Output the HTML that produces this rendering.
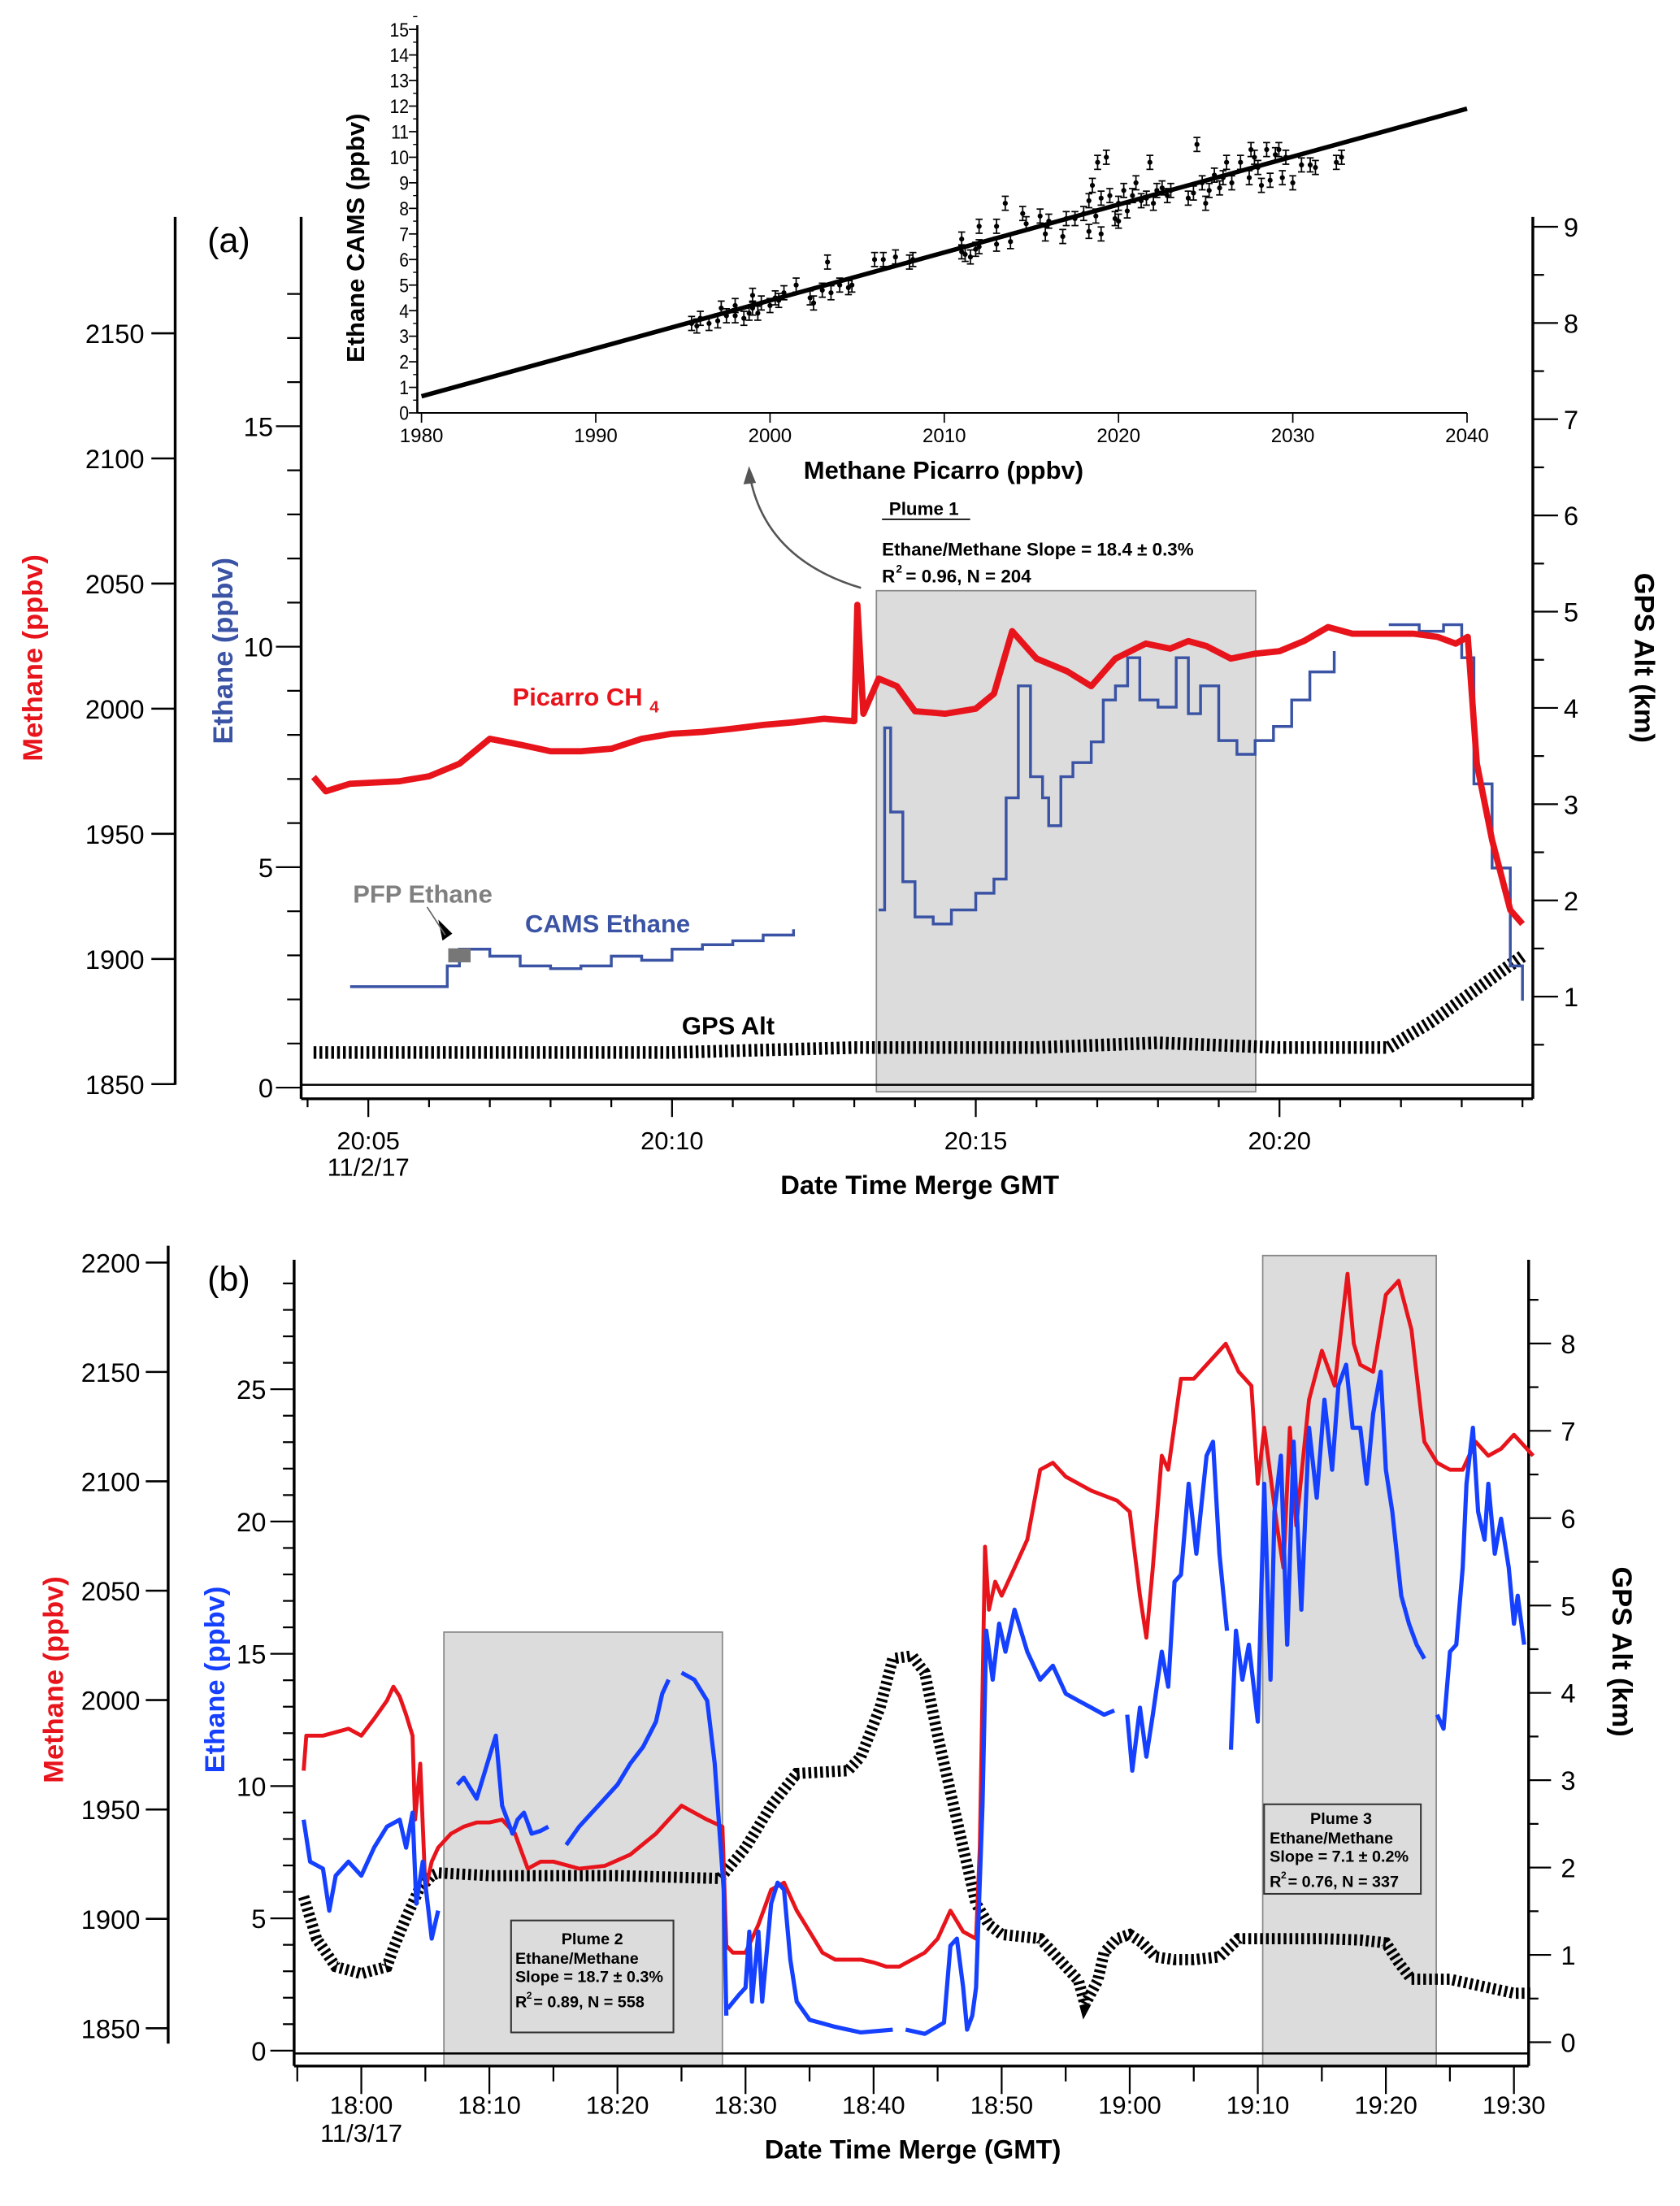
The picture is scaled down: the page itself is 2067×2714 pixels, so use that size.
<!DOCTYPE html>
<html><head><meta charset="utf-8"><style>
html,body{margin:0;padding:0;background:#fff}
svg{display:block}
text{font-family:"Liberation Sans",Arial,sans-serif}
</style></head><body>
<svg id="fig" xmlns="http://www.w3.org/2000/svg" width="2067" height="2714" viewBox="0 0 1200 1576">
<rect x="0" y="0" width="1200" height="1576" fill="#fff"/>
<g id="static">
<!-- panel a shading -->
<rect x="626" y="422" width="271" height="358" fill="#dcdcdc" stroke="#888" stroke-width="1"/>
<!-- panel b shading -->
<rect x="317" y="1166" width="199" height="310" fill="#dcdcdc" stroke="#888" stroke-width="1"/>
<rect x="902" y="897" width="124" height="579" fill="#dcdcdc" stroke="#888" stroke-width="1"/>
<text x="148" y="180" font-size="25">(a)</text>
<text x="148" y="922" font-size="25">(b)</text>
</g>
<g id="dyn"></g>
</svg>
<script>
// ---------- Panel (a) data ----------
const aCh4T = [4.1,4.3,4.7,5.5,6.0,6.5,7.0,7.5,8.0,8.5,9.0,9.5,10.0,10.5,11.0,11.5,12.0,12.5,13.0,13.05,13.15,13.4,13.7,14.0,14.5,15.0,15.3,15.6,16.0,16.5,16.9,17.3,17.8,18.2,18.5,18.8,19.2,19.6,20.0,20.4,20.8,21.2,21.7,22.2,22.6,22.9,23.1,23.25,23.5,23.8,24.0];
const aCh4V = [1972.7,1967,1970,1971,1973,1978,1988,1985.6,1983,1983,1984,1988,1990,1990.7,1992,1993.5,1994.6,1996,1995,2041.5,1998,2012,2009,1999,1998,2000,2006,2031,2020,2015,2009,2020,2026,2024,2027,2025,2020,2022,2023,2027,2032.6,2030,2030,2030,2028.7,2026,2028.7,1978,1947.5,1919.6,1914];
const aEthT1 = [4.7,5.5,6.0,6.3,6.5,7.0,7.5,8.0,8.5,9.0,9.5,10.0,10.5,11.0,11.5,12.0];
const aEthV1 = [2.29,2.29,2.29,2.76,3.14,2.98,2.76,2.70,2.76,2.98,2.89,3.14,3.24,3.33,3.46,3.59];
const aEthT2 = [13.4,13.5,13.6,13.8,14.0,14.3,14.6,15.0,15.3,15.5,15.7,15.9,16.1,16.2,16.4,16.6,16.9,17.1,17.3,17.5,17.7,18.0,18.3,18.5,18.7,19.0,19.3,19.6,19.9,20.2,20.5,20.9];
const aEthV2 = [4.03,8.16,6.25,4.67,3.87,3.71,4.03,4.41,4.73,6.57,9.11,7.05,6.57,5.94,7.05,7.37,7.84,8.79,9.11,9.75,8.79,8.63,9.75,8.48,9.11,7.87,7.56,7.87,8.19,8.79,9.43,9.9];
const aEthT3 = [21.8,22.3,22.7,23.0,23.2,23.5,23.8,24.0];
const aEthV3 = [10.5,10.35,10.5,9.75,6.89,4.98,2.76,1.97];
const aGpsT = [4.1,10,13,16,18,20,21.8,22.5,24.0];
const aGpsV = [0.42,0.42,0.47,0.47,0.52,0.47,0.47,0.74,1.42];
const pfpT = [6.5];
const pfpV = [3.0];
// ---------- Inset scatter data ----------
const scatX = [1995.5,1995.8,1996,1996.5,1997,1997.2,1997.5,1998,1998,1998.5,1998.8,1999,1999,1999.3,1999.5,2000,2000.3,2000.5,2000.8,2001.5,2002.3,2002.5,2003,2003.3,2003.5,2004,2004.5,2004.7,2006,2006.5,2007.2,2008,2008.2,2011,2011,2011.2,2011.5,2011.8,2012,2012,2013,2013,2013.5,2013.8,2014.5,2014.7,2015.5,2015.8,2016,2016.8,2017,2017.5,2018,2018.3,2018.3,2018.5,2018.7,2018.8,2019,2019,2019.3,2019.5,2019.8,2020,2020,2020.3,2020.5,2020.8,2021,2021.3,2021.6,2021.8,2022,2022.2,2022.5,2022.8,2023,2024,2024.3,2024.5,2024.8,2025,2025.2,2025.5,2025.8,2026,2026.2,2026.5,2027,2027.5,2027.6,2027.8,2028,2028.2,2028.5,2028.7,2029,2029.2,2029.4,2029.6,2030,2030.5,2031,2031.3,2032.5,2032.8];
const scatY = [3.5,3.4,3.7,3.5,3.6,4.1,3.8,3.8,4.2,3.7,3.9,4.6,4.1,3.9,4.3,4.2,4.5,4.4,4.7,5.0,4.5,4.3,4.8,5.9,4.7,5.0,4.9,5.0,6.0,6.0,6.1,5.9,6.0,6.8,6.3,6.2,6.1,6.4,7.3,6.5,7.3,6.6,8.2,6.7,7.8,7.4,7.7,7.0,7.5,6.9,7.6,7.6,7.8,8.3,7.1,8.9,7.7,9.8,7.0,8.4,10.0,8.5,7.6,7.5,8.2,8.7,7.9,8.5,9.0,8.3,8.4,9.8,8.2,8.7,8.8,8.5,8.7,8.4,8.6,10.5,9.0,8.2,8.7,9.3,8.8,9.2,9.8,9.0,9.8,9.2,10.3,10.0,9.6,8.9,10.3,9.1,10.1,10.3,9.2,10.0,9.0,9.7,9.7,9.6,9.8,10.0];
const fitX = [1980,2040];
const fitIntercept = 0.65;
const fitSlope = 0.1875;
const insetXTicks = [1980,1990,2000,2010,2020,2030,2040];
const insetYTicks = [0,1,2,3,4,5,6,7,8,9,10,11,12,13,14,15];
// ---------- Panel (b) data ----------
const bCh4T = [-4.5,-4.3,-3,-1,0,1,2,2.5,3,3.5,4,4.2,4.6,5,5.5,6,7,8,9,10,11,12,13,14,15,17,19,21,23,24,25,26,27,28.2,28.5,29,30,31,32,33,34,35,36,37,38,39,40,41,42,43,44,45,46,47,48,48.3,48.7,49,49.5,50,51,52,53,54,55,57,59,60,60.8,61.3,61.8,62.5,63,64,65,66.5,67.5,68.5,69.5,70,70.5,71.5,72,72.5,73,74,75,76,77,77.5,78,79,80,81,82,83,84,85,86,87,88,89,90,91,91.5];
const bCh4Y = [1265,1240,1240,1235,1240,1228,1215,1205,1212,1225,1240,1300,1260,1350,1330,1320,1310,1305,1302,1302,1300,1310,1335,1330,1330,1335,1333,1325,1310,1300,1290,1295,1300,1305,1390,1395,1395,1375,1350,1345,1365,1380,1395,1400,1400,1400,1402,1405,1405,1400,1395,1385,1365,1380,1385,1320,1105,1150,1130,1140,1120,1100,1050,1045,1055,1065,1072,1080,1140,1170,1120,1040,1050,985,985,970,960,980,990,1060,1020,1090,1120,1020,1090,1000,965,990,910,960,975,980,925,915,950,1030,1045,1050,1050,1030,1040,1035,1025,1035,1040];
const bEthSegT = [
 [-4.5,-4,-3,-2.5,-2,-1,0,1,2,3,3.5,4,4.3,4.8,5.5,6.0],
 [7.5,8,9,10,10.5,11,11.8,12.2,12.7,13.3,14,14.6],
 [16,17,18,19,20,21,22,23,23.5,24],
 [25,26,27,27.6,28.3,28.5],
 [28.6,29.5,30,30.3,30.5,31,31.3,32,32.5,33,33.5,34,35,37,39,41.5],
 [42.5,44,45.5,46,46.5,47,47.3,47.7,48,48.5,48.8,49.3,49.8,50.3,51,52,53,54,55,56,57,58,58.8],
 [59.8,60.2,60.8,61.3,61.8,62.5,63,63.5,64,64.6,65.2,66,66.5,67,67.6],
 [67.9,68.3,68.8,69.3,70,70.5,71,71.3,71.8,72.3,72.8,73.4,74,74.6,75.2,75.8,76.3,76.9,77.4,78,78.5,79,79.6,80,80.5,81.2,81.8,82.4,83],
 [84,84.5,85,85.5,86,86.3,86.8,87.2,87.7,88,88.5,89,89.6,90,90.3,90.8]
];
const bEthSegY = [
 [1300,1330,1335,1365,1340,1330,1340,1320,1305,1300,1320,1295,1360,1330,1385,1365],
 [1275,1270,1285,1255,1240,1290,1310,1300,1295,1310,1308,1305],
 [1318,1305,1295,1285,1275,1260,1248,1230,1210,1200],
 [1195,1200,1215,1260,1350,1440],
 [1435,1425,1420,1380,1430,1380,1430,1360,1345,1350,1400,1430,1443,1448,1452,1450],
 [1450,1453,1445,1390,1385,1420,1450,1440,1420,1290,1165,1200,1160,1180,1150,1180,1200,1190,1210,1215,1220,1225,1222],
 [1225,1265,1220,1255,1225,1180,1205,1130,1125,1060,1110,1040,1030,1110,1165],
 [1250,1165,1200,1175,1230,1060,1200,1080,1040,1175,1030,1150,1020,1070,1000,1050,990,975,1020,1020,1060,1010,980,1050,1080,1140,1160,1175,1185],
 [1225,1235,1180,1175,1120,1060,1020,1080,1100,1060,1110,1085,1120,1160,1140,1175]
];
const bGpsT = [-4.5,-3.5,-2,0,2,2.5,3.5,4.5,5.5,6,10,20,28,30,32,34,38,39,40.5,41.5,43,44,45,46,47,48,49,50,53,54,56,56.5,57.5,58,59,60,61,62,63.5,65,67,68.5,70,75,78,80,81,82,85,88,90,91.5];
const bGpsY = [1355,1385,1405,1410,1405,1392,1370,1350,1340,1338,1340,1340,1342,1320,1290,1267,1265,1255,1220,1185,1183,1195,1240,1280,1320,1360,1375,1382,1385,1395,1415,1432,1415,1395,1385,1382,1388,1398,1400,1400,1398,1385,1385,1385,1386,1388,1402,1414,1414,1420,1424,1424];
const aMethTicks=[1850,1900,1950,2000,2050,2100,2150];
const aEthTicks=[0,5,10,15];
const aGpsTicks=[1,2,3,4,5,6,7,8,9];
const aTimeTicks=[5,10,15,20];
const aTimeLabels=["20:05","20:10","20:15","20:20"];
const bMethTicks=[1850,1900,1950,2000,2050,2100,2150,2200];
const bEthTicks=[0,5,10,15,20,25];
const bGpsTicks=[0,1,2,3,4,5,6,7,8];
const bTimeTicks=[0,10,20,30,40,50,60,70,80,90];
const bTimeLabels=["18:00","18:10","18:20","18:30","18:40","18:50","19:00","19:10","19:20","19:30"];

// ---------- scales ----------
const axT=t=>263+(t-5)*43.4;
const ayM=v=>774.5-(v-1850)*1.788;
const ayE=v=>777-v*31.5;
const ayG=v=>780.75-v*68.75;
const bxT=t=>258+t*9.15;
const byM=v=>1449-(v-1850)*1.5629;
const byE=v=>1465-v*18.9;
const byG=v=>1459-v*62.4;
const ixS=v=>301+(v-1980)*(747/60);
const iyS=v=>295-v*(274/15);

const NS="http://www.w3.org/2000/svg";
const root=document.getElementById('dyn');
function mk(tag,attrs,parent){const e=document.createElementNS(NS,tag);for(const k in attrs)e.setAttribute(k,attrs[k]);(parent||root).appendChild(e);return e;}
function line(x1,y1,x2,y2,w,c){return mk('line',{x1:x1,y1:y1,x2:x2,y2:y2,stroke:c||'#000','stroke-width':w||1.5});}
function txt(x,y,s,size,opts){const e=mk('text',Object.assign({x:x,y:y,'font-size':size},opts||{}));e.textContent=s;return e;}
function pathPts(xs,ys,fx,fy){return xs.map((t,i)=>(i?'L':'M')+fx(t).toFixed(1)+' '+fy(ys[i]).toFixed(1)).join(' ');}
function stepPts(xs,ys,fx,fy){let d='';xs.forEach((t,i)=>{const x=fx(t).toFixed(1),y=fy(ys[i]).toFixed(1);if(i===0)d+='M'+x+' '+y;else d+=' H'+x+' V'+y;});return d;}

// ===== Panel (a) axes =====
let e;
e=line(125,155,125,775,2);


aMethTicks.forEach(v=>{const y=ayM(v);line(108,y,125,y,1.5);
 e=txt(103,y+7,String(v),19,{'text-anchor':'end'});
 
 });
e=line(215,155,215,785,2);


for(let v=0;v<=18;v++){const y=ayE(v);if(y<160)continue;line(v%5===0?197:205,y,215,y,1.3);}
aEthTicks.forEach(v=>{e=txt(195,ayE(v)+7,String(v),19,{'text-anchor':'end'});
 
 });
e=line(1095,155,1095,785,2);


for(let v=0.5;v<=9.1;v+=0.5){const y=ayG(v);line(1095,y,Number.isInteger(v)?1113:1103,y,1.3);}
aGpsTicks.forEach(v=>{e=txt(1117,ayG(v)+7,String(v),19);
 
 });
line(215,775,1095,775,1.5);
e=line(215,785,1095,785,2);


for(let t=4;t<=24;t++){const x=axT(t);line(x,785,x,t%5===0?798:791,1.3);}
aTimeTicks.forEach((t,i)=>{e=txt(axT(t),821,aTimeLabels[i],18,{'text-anchor':'middle'});
 
 });
txt(axT(5),840,"11/2/17",18,{'text-anchor':'middle'});
e=txt(657,853,"Date Time Merge GMT",19,{'text-anchor':'middle','font-weight':'bold'});


e=txt(0,0,"Methane (ppbv)",20,{'text-anchor':'middle','font-weight':'bold',fill:'#e8141c',transform:'translate(30,470) rotate(-90)'});


e=txt(0,0,"Ethane (ppbv)",20,{'text-anchor':'middle','font-weight':'bold',fill:'#3a53a4',transform:'translate(166,465) rotate(-90)'});


e=txt(0,0,"GPS Alt (km)",20,{'text-anchor':'middle','font-weight':'bold',transform:'translate(1168,470) rotate(90)'});



// ===== Panel (a) series =====
e=mk('path',{d:pathPts(aGpsT,aGpsV,axT,ayG),fill:'none',stroke:'#000','stroke-width':9,'stroke-dasharray':'2 2.2'});


[[aEthT1,aEthV1],[aEthT2,aEthV2],[aEthT3,aEthV3]].forEach(s=>{
 e=mk('path',{d:stepPts(s[0],s[1],axT,ayE),fill:'none',stroke:'#3a53a4','stroke-width':2});
 
 });
e=mk('path',{d:pathPts(aCh4T,aCh4V,axT,ayM),fill:'none',stroke:'#e8141c','stroke-width':4.5,'stroke-linejoin':'round'});


pfpT.forEach((t,i)=>{e=mk('rect',{x:axT(t)-8,y:ayE(pfpV[i])-5,width:16,height:10,fill:'#777'});
 
 });
mk('polygon',{points:'313,657 323,667 316,672',fill:'#000'});
line(305,648,318,668,1,'#666');
e=txt(252,645,"PFP Ethane",18,{'font-weight':'bold',fill:'#808080'});


e=txt(375,666,"CAMS Ethane",18,{'font-weight':'bold',fill:'#3a53a4'});


e=txt(366,504,"Picarro CH",18,{'font-weight':'bold',fill:'#e8141c'});


txt(464,509,"4",12,{'font-weight':'bold',fill:'#e8141c'});
e=txt(487,739,"GPS Alt",18,{'font-weight':'bold'});


e=txt(635,368,"Plume 1",13,{'font-weight':'bold'});


line(630,371,693,371,1);
e=txt(630,397,"Ethane/Methane Slope = 18.4 ± 0.3%",13,{'font-weight':'bold'});


txt(630,416,"R",13,{'font-weight':'bold'});
txt(640,409,"2",8,{'font-weight':'bold'});
txt(647,416,"= 0.96, N = 204",13,{'font-weight':'bold'});
e=mk('path',{d:'M615 420 Q548 400 536 342',fill:'none',stroke:'#555','stroke-width':1.5});


mk('polygon',{points:'535,333 531,346 540,345',fill:'#555'});

// ===== Inset =====
e=line(298,18,298,295,1.5);


e=line(298,295,1048,295,1.2);


insetYTicks.forEach(v=>{const y=iyS(v);line(292,y,298,y,1);line(295,iyS(v+0.5),298,iyS(v+0.5),0.8);
 e=txt(292,y+5,String(v),14,{'text-anchor':'end',transform:`translate(${292*0.12},0) scale(0.88,1)`});
 
 });
insetXTicks.forEach(v=>{const x=ixS(v);line(x,295,x,302,1);
 e=txt(x,316,String(v),14,{'text-anchor':'middle'});
 
 });
e=txt(0,0,"Ethane CAMS (ppbv)",18,{'text-anchor':'middle','font-weight':'bold',transform:'translate(260,170) rotate(-90)'});


e=txt(674,342,"Methane Picarro (ppbv)",18,{'text-anchor':'middle','font-weight':'bold'});


e=line(ixS(fitX[0]),iyS(fitIntercept),ixS(fitX[1]),iyS(fitIntercept+fitSlope*(fitX[1]-fitX[0])),3.2);


scatX.forEach((v,i)=>{const x=ixS(v),y=iyS(scatY[i]);const g=mk('g',{});
 
 
 mk('line',{x1:x,y1:y-5,x2:x,y2:y+5,stroke:'#000','stroke-width':1},g);
 mk('line',{x1:x-2.5,y1:y-5,x2:x+2.5,y2:y-5,stroke:'#000','stroke-width':1},g);
 mk('line',{x1:x-2.5,y1:y+5,x2:x+2.5,y2:y+5,stroke:'#000','stroke-width':1},g);
 mk('circle',{cx:x,cy:y,r:1.8,fill:'#000'},g);});

// ===== Panel (b) axes =====
e=line(120,890,120,1460,2);


bMethTicks.forEach(v=>{const y=byM(v);line(104,y,120,y,1.5);
 e=txt(100,y+7,String(v),19,{'text-anchor':'end'});
 
 });
e=line(210,900,210,1476,2);


for(let v=0;v<=29;v++){const y=byE(v);if(y<902)continue;line(v%5===0?193:202,y,210,y,1.3);}
bEthTicks.forEach(v=>{e=txt(190,byE(v)+7,String(v),19,{'text-anchor':'end'});
 
 });
e=line(1092,900,1092,1476,2);


for(let v=0;v<=8.6;v+=0.5){const y=byG(v);line(1092,y,Number.isInteger(v)?1108:1099,y,1.3);}
bGpsTicks.forEach(v=>{e=txt(1115,byG(v)+7,String(v),19);
 
 });
line(210,1467,1092,1467,1.5);
e=line(210,1476,1092,1476,2);


for(let t=-5;t<=90;t+=5){const x=bxT(t);line(x,1476,x,t%10===0?1496:1487,1.3);}
bTimeTicks.forEach((t,i)=>{e=txt(bxT(t),1510,bTimeLabels[i],18,{'text-anchor':'middle'});
 
 });
txt(bxT(0),1530,"11/3/17",18,{'text-anchor':'middle'});
e=txt(652,1542,"Date Time Merge (GMT)",19,{'text-anchor':'middle','font-weight':'bold'});


e=txt(0,0,"Methane (ppbv)",20,{'text-anchor':'middle','font-weight':'bold',fill:'#e8141c',transform:'translate(45,1200) rotate(-90)'});


e=txt(0,0,"Ethane (ppbv)",20,{'text-anchor':'middle','font-weight':'bold',fill:'#1540ff',transform:'translate(160,1200) rotate(-90)'});


e=txt(0,0,"GPS Alt (km)",20,{'text-anchor':'middle','font-weight':'bold',transform:'translate(1152,1180) rotate(90)'});



// ===== Panel (b) series =====
const iyy=y=>y;
e=mk('path',{d:pathPts(bGpsT,bGpsY,bxT,iyy),fill:'none',stroke:'#000','stroke-width':8,'stroke-dasharray':'2 2.2'});


e=mk('path',{d:pathPts(bCh4T,bCh4Y,bxT,iyy),fill:'none',stroke:'#e8141c','stroke-width':2.8,'stroke-linejoin':'round'});


bEthSegT.forEach((s,i)=>{e=mk('path',{d:pathPts(s,bEthSegY[i],bxT,iyy),fill:'none',stroke:'#1540ff','stroke-width':3,'stroke-linejoin':'round'});
 
 });

// Plume boxes
e=mk('rect',{x:365,y:1372,width:116,height:80,fill:'#dcdcdc',stroke:'#333','stroke-width':1.2});


[["Plume 2",1389],["Ethane/Methane",1403],["Slope = 18.7 ± 0.3%",1416]].forEach((p,i)=>{txt(i===0?423:(i===1?368:368),p[1],p[0],11.5,{'font-weight':'bold','text-anchor':i===0?'middle':'start'});});
txt(368,1434,"R",11.5,{'font-weight':'bold'});txt(376,1428,"2",7,{'font-weight':'bold'});txt(381,1434,"= 0.89, N = 558",11.5,{'font-weight':'bold'});
e=mk('rect',{x:903,y:1289,width:112,height:64,fill:'#dcdcdc',stroke:'#333','stroke-width':1.2});


txt(958,1303,"Plume 3",11.5,{'font-weight':'bold','text-anchor':'middle'});
txt(907,1317,"Ethane/Methane",11.5,{'font-weight':'bold'});
txt(907,1330,"Slope = 7.1 ± 0.2%",11.5,{'font-weight':'bold'});
txt(907,1348,"R",11.5,{'font-weight':'bold'});txt(915,1342,"2",7,{'font-weight':'bold'});txt(920,1348,"= 0.76, N = 337",11.5,{'font-weight':'bold'});
</script>
</body></html>
